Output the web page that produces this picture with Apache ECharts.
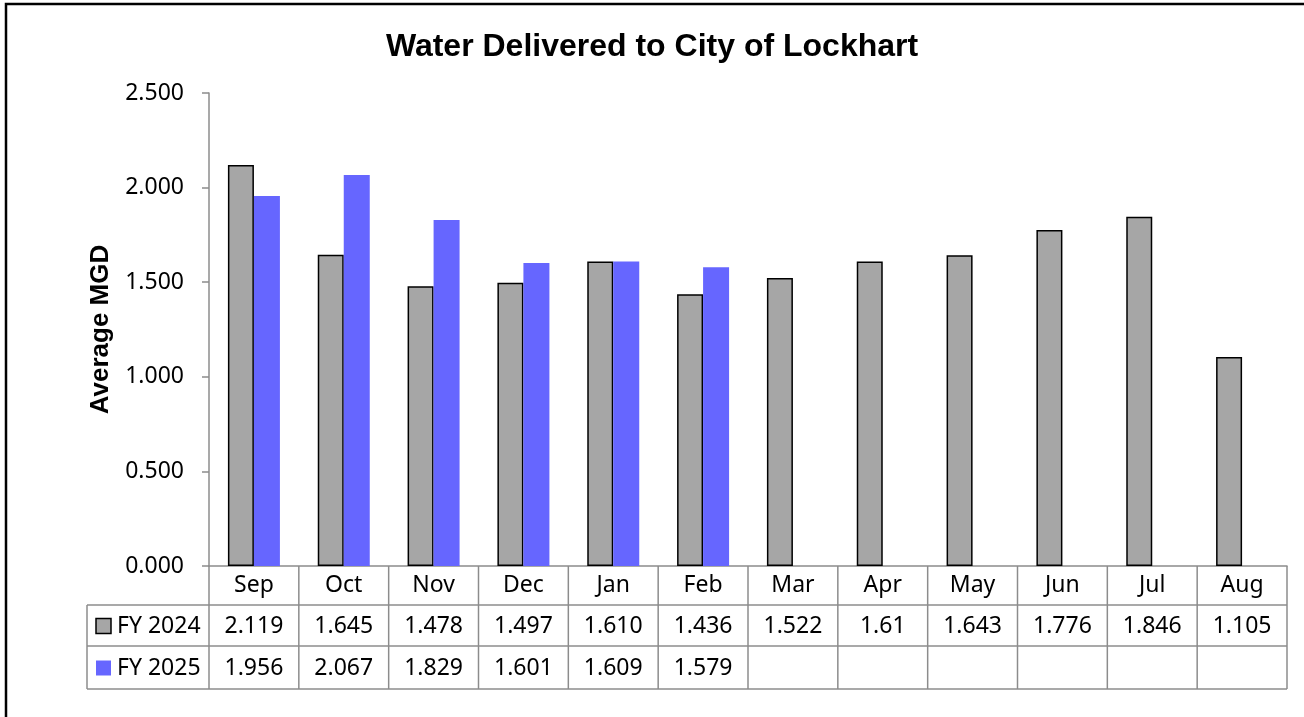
<!DOCTYPE html>
<html>
<head>
<meta charset="utf-8">
<script src="https://cdn.jsdelivr.net/npm/echarts@6/dist/echarts.min.js"></script>
<style>
  html, body { margin: 0; padding: 0; background: #fff; }
  #chart { width: 1304px; height: 717px; }
</style>
</head>
<body>
<div id="chart"></div>
<script>
// 数据
var months = ["Sep", "Oct", "Nov", "Dec", "Jan", "Feb", "Mar", "Apr", "May", "Jun", "Jul", "Aug"];
var fy2024 = [2.119, 1.645, 1.478, 1.497, 1.610, 1.436, 1.522, 1.61, 1.643, 1.776, 1.846, 1.105];
var fy2024Text = ["2.119", "1.645", "1.478", "1.497", "1.610", "1.436", "1.522", "1.61", "1.643", "1.776", "1.846", "1.105"];
var fy2025 = [1.956, 2.067, 1.829, 1.601, 1.609, 1.579, null, null, null, null, null, null];
var fy2025Text = ["1.956", "2.067", "1.829", "1.601", "1.609", "1.579", "", "", "", "", "", ""];
var seriesNames = ["FY 2024", "FY 2025"];

var gray = "#A6A6A6", blue = "#6666FF", lineGray = "#8C8C8C";
var numFont = "'Noto Sans', sans-serif";

var chart = echarts.init(document.getElementById("chart"));

chart.setOption({
    animation: false,
    title: {
        text: "Water Delivered to City of Lockhart",
        left: "center", top: 26,
        textStyle: { fontFamily: "'Liberation Sans', Arial", fontWeight: "bold", fontSize: 32, color: "#000" }
    },
    grid: { left: 209, right: 17, top: 93, bottom: 151 },
    xAxis: {
        type: "category",
        data: months,
        axisLine: { lineStyle: { color: lineGray, width: 1.5 } },
        axisTick: { show: false },
        axisLabel: { fontFamily: numFont, fontSize: 23, color: "#000", margin: 8, interval: 0 }
    },
    yAxis: {
        type: "value",
        min: 0, max: 2.5, interval: 0.5,
        name: "Average MGD",
        nameLocation: "middle",
        nameGap: 94,
        nameTextStyle: { fontFamily: "'Liberation Sans', Arial", fontWeight: "bold", fontSize: 26, color: "#000" },
        axisLine: { show: true, lineStyle: { color: lineGray, width: 1.5 } },
        axisTick: { show: true, length: 7, lineStyle: { color: lineGray, width: 1.5 } },
        splitLine: { show: false },
        axisLabel: {
            fontFamily: numFont, fontSize: 23, color: "#000", margin: 25,
            formatter: function (v) { return v.toFixed(3); }
        }
    },
    series: [
        {
            name: seriesNames[0], type: "bar", data: fy2024, barWidth: 26, barGap: "0%",
            itemStyle: { color: gray, borderColor: "#000", borderWidth: 1.5 }
        },
        {
            name: seriesNames[1], type: "bar", data: fy2025, barWidth: 26, barGap: "0%",
            itemStyle: { color: blue }
        }
    ]
});

// 数据表格部分
var x0 = chart.convertToPixel({ xAxisIndex: 0 }, 0);
var x1 = chart.convertToPixel({ xAxisIndex: 0 }, 1);
var cw = x1 - x0;
var leftEdge = x0 - cw / 2, rightEdge = leftEdge + cw * months.length;
var tableLeft = 87;
var headTop = 566;
var rowTops = [605, 646, 689];
var els = [];
var ls = { stroke: lineGray, lineWidth: 1.5 };

els.push({ type: "rect", shape: { x: 6, y: 4, width: 1400, height: 800 }, style: { fill: null, stroke: "#000", lineWidth: 2.5 }, silent: true });

rowTops.forEach(function (y) {
    els.push({ type: "line", shape: { x1: tableLeft, y1: y, x2: rightEdge, y2: y }, style: ls });
});
els.push({ type: "line", shape: { x1: tableLeft, y1: rowTops[0], x2: tableLeft, y2: rowTops[2] }, style: ls });
for (var k = 0; k <= months.length; k++) {
    var bx = leftEdge + k * cw;
    els.push({ type: "line", shape: { x1: bx, y1: headTop, x2: bx, y2: rowTops[2] }, style: ls });
}

var rowTexts = [fy2024Text, fy2025Text];
var swatch = [
    { fill: gray, stroke: "#000", lineWidth: 1.5 },
    { fill: blue, stroke: null, lineWidth: 0 }
];
rowTexts.forEach(function (arr, r) {
    var cy = (rowTops[r] + rowTops[r + 1]) / 2 + 1;
    els.push({ type: "rect", shape: { x: 96, y: cy - 8, width: 15, height: 15 }, style: swatch[r] });
    els.push({ type: "text", x: 117, y: cy, style: { text: seriesNames[r], font: "23px " + numFont, fill: "#000", verticalAlign: "middle", align: "left" } });
    arr.forEach(function (t, i) {
        if (!t) return;
        var cx = chart.convertToPixel({ xAxisIndex: 0 }, i);
        els.push({ type: "text", x: cx, y: cy, style: { text: t, font: "23px " + numFont, fill: "#000", verticalAlign: "middle", align: "center" } });
    });
});

chart.setOption({ graphic: els });
</script>
</body>
</html>
